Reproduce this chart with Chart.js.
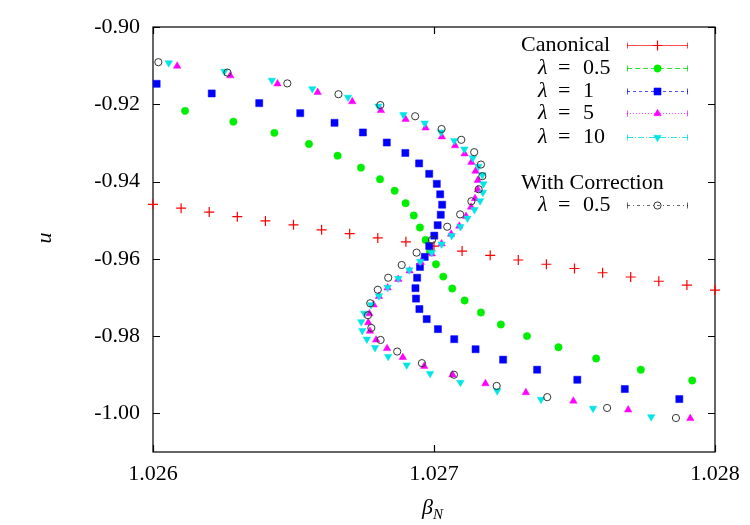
<!DOCTYPE html>
<html>
<head>
<meta charset="utf-8">
<script src="https://cdn.jsdelivr.net/npm/chart.js@4/dist/chart.umd.min.js"></script>
<style>
  body { margin: 0; background: #fff; }
</style>
</head>
<body>
<canvas id="myChart" width="750" height="525"></canvas>
<script>
// datos
const canonicalX = [1.0260, 1.0261, 1.0262, 1.0263, 1.0264, 1.0265, 1.0266, 1.0267, 1.0268, 1.0269, 1.0270,
  1.0271, 1.0272, 1.0273, 1.0274, 1.0275, 1.0276, 1.0277, 1.0278, 1.0279, 1.0280];
const canonicalY = [-0.9459, -0.9469, -0.9479, -0.9491, -0.9502, -0.9512, -0.9525, -0.9535, -0.9546, -0.9556, -0.9567,
  -0.9580, -0.9591, -0.9603, -0.9614, -0.9625, -0.9636, -0.9647, -0.9658, -0.9668, -0.9681];

const lam05X = [1.026114, 1.026286, 1.026432, 1.026555, 1.026657, 1.026740, 1.026808, 1.026860, 1.026899, 1.026928,
  1.026950, 1.026970, 1.026986, 1.027007, 1.027033, 1.027065, 1.027109, 1.027167, 1.027238, 1.027331, 1.027443,
  1.027577, 1.027736, 1.027919];
const lam05Y = [-0.9217, -0.9245, -0.9274, -0.9303, -0.9333, -0.9364, -0.9394, -0.9424, -0.9456, -0.9488, -0.9519,
  -0.9551, -0.9582, -0.9614, -0.9646, -0.9677, -0.9708, -0.9739, -0.9770, -0.9800, -0.9829, -0.9858, -0.9887, -0.9915];

const lam1X = [1.026013, 1.026209, 1.026378, 1.026524, 1.026646, 1.026747, 1.026832, 1.026898, 1.026947, 1.026983,
  1.027010, 1.027022, 1.027029, 1.027024, 1.027013, 1.027001, 1.026983, 1.026967, 1.026950, 1.026940, 1.026934,
  1.026936, 1.026948, 1.026974, 1.027014, 1.027072, 1.027148, 1.027246, 1.027367, 1.027510, 1.027679, 1.027873];
const lam1Y = [-0.9147, -0.9172, -0.9197, -0.9223, -0.9248, -0.9273, -0.9299, -0.9326, -0.9353, -0.9380, -0.9406,
  -0.9433, -0.9460, -0.9486, -0.9513, -0.9540, -0.9567, -0.9595, -0.9621, -0.9649, -0.9676, -0.9703, -0.9730, -0.9756,
  -0.9782, -0.9808, -0.9834, -0.9861, -0.9887, -0.9913, -0.9937, -0.9963];

const lam5X = [1.026086, 1.026275, 1.026443, 1.026586, 1.026709, 1.026811, 1.026899, 1.026970, 1.027028, 1.027075,
  1.027109, 1.027133, 1.027148, 1.027156, 1.027156, 1.027146, 1.027132, 1.027114, 1.027090, 1.027061, 1.027027,
  1.026992, 1.026953, 1.026913, 1.026873, 1.026835, 1.026804, 1.026785, 1.026770, 1.026766, 1.026772, 1.026794,
  1.026833, 1.026889, 1.026965, 1.027066, 1.027183, 1.027327, 1.027496, 1.027691, 1.027912];
const lam5Y = [-0.9101, -0.9126, -0.9147, -0.9169, -0.9193, -0.9216, -0.9239, -0.9261, -0.9284, -0.9307, -0.9328,
  -0.9350, -0.9373, -0.9397, -0.9421, -0.9444, -0.9466, -0.9490, -0.9515, -0.9536, -0.9561, -0.9587, -0.9609, -0.9631,
  -0.9653, -0.9675, -0.9697, -0.9719, -0.9742, -0.9765, -0.9787, -0.9810, -0.9832, -0.9855, -0.9878, -0.9900, -0.9923,
  -0.9946, -0.9968, -0.9991, -1.0013];

const lam10X = [1.026056, 1.026254, 1.026423, 1.026567, 1.026694, 1.026802, 1.026891, 1.026967, 1.027025, 1.027072,
  1.027108, 1.027138, 1.027158, 1.027172, 1.027176, 1.027174, 1.027164, 1.027144, 1.027119, 1.027094, 1.027063,
  1.027027, 1.026992, 1.026951, 1.026912, 1.026873, 1.026835, 1.026804, 1.026776, 1.026752, 1.026741, 1.026745,
  1.026761, 1.026790, 1.026837, 1.026903, 1.026986, 1.027094, 1.027225, 1.027381, 1.027566, 1.027773];
const lam10Y = [-0.9093, -0.9115, -0.9138, -0.9160, -0.9182, -0.9205, -0.9227, -0.9249, -0.9272, -0.9294, -0.9316,
  -0.9339, -0.9361, -0.9383, -0.9406, -0.9428, -0.9450, -0.9473, -0.9495, -0.9517, -0.9540, -0.9562, -0.9584, -0.9607,
  -0.9629, -0.9651, -0.9674, -0.9696, -0.9719, -0.9741, -0.9763, -0.9786, -0.9808, -0.9830, -0.9853, -0.9875, -0.9897,
  -0.9920, -0.9942, -0.9964, -0.9987, -1.0009];

const corrX = [1.026019, 1.026265, 1.026478, 1.026660, 1.026809, 1.026933, 1.027027, 1.027097, 1.027143, 1.027167,
  1.027172, 1.027159, 1.027133, 1.027093, 1.027047, 1.026993, 1.026938, 1.026885, 1.026837, 1.026800, 1.026773,
  1.026765, 1.026777, 1.026810, 1.026869, 1.026957, 1.027071, 1.027223, 1.027403, 1.027616, 1.027861];
const corrY = [-0.9091, -0.9118, -0.9146, -0.9174, -0.9202, -0.9231, -0.9264, -0.9292, -0.9324, -0.9356, -0.9386,
  -0.9420, -0.9451, -0.9485, -0.9517, -0.9551, -0.9584, -0.9616, -0.9649, -0.9680, -0.9715, -0.9746, -0.9779, -0.9810,
  -0.9840, -0.9870, -0.9900, -0.9929, -0.9958, -0.9986, -1.0012];

const xTicks = [1.026, 1.027, 1.028];
const yTicks = [-1.00, -0.98, -0.96, -0.94, -0.92, -0.90];
const seriesNames = ['Canonical', 'λ = 0.5', 'λ = 1', 'λ = 5', 'λ = 10', 'λ = 0.5'];
const correctionTitle = 'With Correction';

const FONT = "'Liberation Serif', 'DejaVu Serif', serif";

function pts(xs, ys) {
  return xs.map(function (x, i) { return { x: x, y: ys[i] }; });
}

// muestras de la leyenda (estilo gnuplot)
const legendStyle = [
  { line: 'rgba(255,0,0,0.7)', dash: [] },
  { line: 'rgba(0,220,0,0.8)', dash: [5, 3] },
  { line: 'rgba(0,0,255,0.7)', dash: [3, 3] },
  { line: 'rgba(255,0,255,0.7)', dash: [1, 2] },
  { line: 'rgba(0,220,220,0.8)', dash: [6, 2, 1, 2] },
  { line: 'rgba(0,0,0,0.6)', dash: [3, 3, 1, 3] }
];

const framePlugin = {
  id: 'frame',
  beforeDatasetsDraw(chart) {
    const ctx = chart.ctx;
    const a = chart.chartArea;
    const sx = chart.scales.x, sy = chart.scales.y;
    ctx.save();
    ctx.strokeStyle = '#000';
    ctx.lineWidth = 1.2;
    ctx.strokeRect(a.left, a.top, a.right - a.left, a.bottom - a.top);
    ctx.beginPath();
    yTicks.forEach(function (v) {
      const p = Math.round(sy.getPixelForValue(v)) + 0.5;
      ctx.moveTo(a.left, p); ctx.lineTo(a.left + 7, p);
      ctx.moveTo(a.right, p); ctx.lineTo(a.right - 7, p);
    });
    xTicks.forEach(function (v) {
      const p = Math.round(sx.getPixelForValue(v)) + 0.5;
      ctx.moveTo(p, a.bottom); ctx.lineTo(p, a.bottom - 7);
      ctx.moveTo(p, a.top); ctx.lineTo(p, a.top + 7);
    });
    ctx.stroke();

    // titulos de ejes
    ctx.fillStyle = '#000';
    ctx.textBaseline = 'alphabetic';
    ctx.font = 'italic 22px ' + FONT;
    ctx.save();
    ctx.translate(51, 238);
    ctx.rotate(-Math.PI / 2);
    ctx.textAlign = 'center';
    ctx.fillText('u', 0, 0);
    ctx.restore();
    const cx = (a.left + a.right) / 2;
    const bw = ctx.measureText('β').width;
    ctx.textAlign = 'left';
    ctx.fillText('β', cx - bw - 1, 514);
    ctx.font = 'italic 15px ' + FONT;
    ctx.fillText('N', cx - 1, 519);
    ctx.restore();
  },
  afterDraw(chart) {
    const ctx = chart.ctx;
    const rows = [45, 68, 91, 113, 137, 205];
    ctx.save();
    ctx.textBaseline = 'middle';
    ctx.fillStyle = '#000';
    // cabecera "With Correction"
    ctx.font = '22px ' + FONT;
    ctx.fillText(correctionTitle, 521, 183);
    chart.data.datasets.forEach(function (ds, i) {
      const y = rows[i];
      const name = seriesNames[i];
      ctx.fillStyle = '#000';
      if (name.charAt(0) === 'λ') {
        ctx.font = 'italic 22px ' + FONT;
        ctx.fillText('λ', 538, y);
        ctx.font = '22px ' + FONT;
        ctx.fillText('=', 558, y);
        ctx.fillText(name.split('= ')[1], 583, y);
      } else {
        ctx.font = '22px ' + FONT;
        ctx.fillText(name, 521, y);
      }
      const st = legendStyle[i];
      const x0 = 627, x1 = 688, yy = y + 0.5;
      ctx.strokeStyle = st.line;
      ctx.lineWidth = 1;
      ctx.setLineDash(st.dash);
      ctx.beginPath();
      ctx.moveTo(x0, yy); ctx.lineTo(x1, yy);
      ctx.stroke();
      ctx.setLineDash([]);
      ctx.beginPath();
      ctx.moveTo(x0 + 0.5, yy - 3); ctx.lineTo(x0 + 0.5, yy + 3);
      ctx.moveTo(x1 - 0.5, yy - 3); ctx.lineTo(x1 - 0.5, yy + 3);
      ctx.stroke();
      ctx.fillStyle = ds.backgroundColor;
      ctx.strokeStyle = ds.borderColor;
      ctx.lineWidth = ds.borderWidth;
      Chart.helpers.drawPoint(ctx, {
        pointStyle: ds.pointStyle, radius: ds.pointRadius,
        rotation: ds.rotation || 0, borderWidth: ds.borderWidth
      }, 657.5, yy);
    });
    ctx.restore();
  }
};

const ctx = document.getElementById('myChart').getContext('2d');

const chart = new Chart(ctx, {
  type: 'scatter',
  data: {
    datasets: [{
      label: seriesNames[0],
      data: pts(canonicalX, canonicalY),
      pointStyle: 'cross', pointRadius: 5,
      borderColor: '#ff0000', backgroundColor: '#ff0000', borderWidth: 1.2,
      order: 6
    }, {
      label: seriesNames[1],
      data: pts(lam05X, lam05Y),
      pointStyle: 'circle', pointRadius: 3.7,
      borderColor: '#00ee00', backgroundColor: '#00ee00', borderWidth: 0.5,
      order: 5
    }, {
      label: seriesNames[2],
      data: pts(lam1X, lam1Y),
      pointStyle: 'rect', pointRadius: 5,
      borderColor: '#0000ff', backgroundColor: '#0000ff', borderWidth: 0.5,
      order: 4
    }, {
      label: seriesNames[3],
      data: pts(lam5X, lam5Y),
      pointStyle: 'triangle', pointRadius: 4.3,
      borderColor: '#ff00ff', backgroundColor: '#ff00ff', borderWidth: 0.5,
      order: 3
    }, {
      label: seriesNames[4],
      data: pts(lam10X, lam10Y),
      pointStyle: 'triangle', rotation: 180, pointRadius: 4.3,
      borderColor: '#00e5e5', backgroundColor: '#00e5e5', borderWidth: 0.5,
      order: 2
    }, {
      label: seriesNames[5],
      data: pts(corrX, corrY),
      pointStyle: 'circle', pointRadius: 3.6,
      borderColor: '#333333', backgroundColor: 'rgba(0,0,0,0)', borderWidth: 1,
      order: 1
    }]
  },
  options: {
    responsive: false,
    animation: false,
    clip: false,
    layout: { padding: { top: 27, right: 35, left: 0, bottom: 0 } },
    plugins: { legend: { display: false }, tooltip: { enabled: false } },
    scales: {
      x: {
        type: 'linear',
        min: 1.026, max: 1.028,
        grid: { display: false, drawTicks: false },
        border: { display: false },
        afterBuildTicks: function (s) { s.ticks = xTicks.map(function (v) { return { value: v }; }); },
        afterFit: function (s) { s.height = 73; },
        ticks: {
          color: '#000', padding: 9, maxRotation: 0,
          font: { family: FONT, size: 22 },
          callback: function (v) { return Number(v).toFixed(3); }
        }
      },
      y: {
        type: 'linear',
        min: -1.01, max: -0.90,
        grid: { display: false, drawTicks: false },
        border: { display: false },
        afterBuildTicks: function (s) { s.ticks = yTicks.map(function (v) { return { value: v }; }); },
        afterFit: function (s) { s.width = 153; },
        ticks: {
          color: '#000', padding: 13,
          font: { family: FONT, size: 22 },
          callback: function (v) { return Number(v).toFixed(2); }
        }
      }
    }
  },
  plugins: [framePlugin]
});
</script>
</body>
</html>
